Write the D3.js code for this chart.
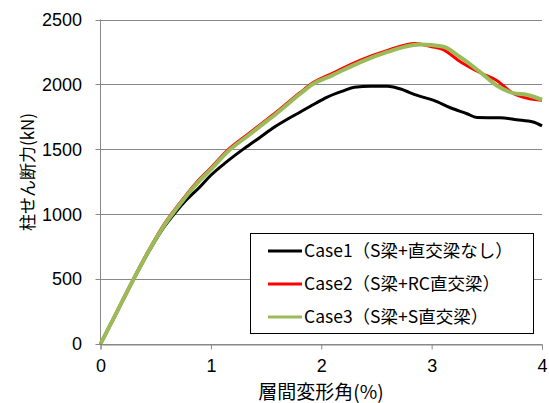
<!DOCTYPE html>
<html>
<head>
<meta charset="utf-8">
<script src="https://cdn.jsdelivr.net/npm/d3@7"></script>
<style>
  body { margin: 0; background: #fff; }
  svg text { font-family: "Noto Sans CJK JP", "Liberation Sans", sans-serif; }
</style>
</head>
<body>
<div id="chart"></div>
<script>
// 柱せん断力 - 層間変形角
let xTicks = [0, 1, 2, 3, 4]
let yTicks = [0, 500, 1000, 1500, 2000, 2500]

let case1Drift = [0, 0.1, 0.2, 0.3, 0.45, 0.57, 0.65, 0.75, 0.9, 1.0, 1.12, 1.3, 1.45, 1.57, 1.7, 1.81, 1.95, 2.05, 2.2, 2.3, 2.45, 2.6, 2.71, 2.87, 3.02, 3.17, 3.32, 3.41, 3.62, 3.77, 3.92, 4.0]
let case1Shear = [0, 165, 332, 497, 730, 895, 983, 1085, 1210, 1300, 1388, 1505, 1595, 1668, 1735, 1787, 1855, 1900, 1950, 1978, 1985, 1985, 1966, 1915, 1877, 1820, 1774, 1745, 1743, 1728, 1710, 1680]

let case2Drift = [0, 0.1, 0.2, 0.3, 0.45, 0.57, 0.65, 0.75, 0.9, 1.0, 1.15, 1.36, 1.45, 1.6, 1.81, 1.92, 2.1, 2.35, 2.6, 2.85, 3.0, 3.1, 3.26, 3.44, 3.59, 3.74, 3.86, 4.0]
let case2Shear = [0, 168, 338, 505, 742, 915, 1010, 1120, 1272, 1357, 1492, 1632, 1692, 1792, 1938, 2010, 2085, 2185, 2262, 2315, 2290, 2270, 2175, 2090, 2030, 1930, 1895, 1877]

let case3Drift = [0, 0.1, 0.2, 0.3, 0.45, 0.57, 0.65, 0.75, 0.9, 1.0, 1.15, 1.36, 1.45, 1.6, 1.81, 1.92, 2.1, 2.35, 2.6, 2.81, 2.9, 3.1, 3.26, 3.44, 3.59, 3.74, 3.86, 4.0]
let case3Shear = [0, 166, 334, 500, 735, 905, 1000, 1110, 1260, 1345, 1480, 1620, 1680, 1780, 1928, 2000, 2070, 2170, 2250, 2300, 2308, 2292, 2210, 2095, 1992, 1933, 1920, 1882]

let seriesNames = ["Case1（S梁+直交梁なし）", "Case2（S梁+RC直交梁）", "Case3（S梁+S直交梁）"]
let seriesColors = ["#000000", "#ff0000", "#9bbb59"]
let seriesWidths = [3, 3, 4]

let series = [
  { drift: case1Drift, shear: case1Shear },
  { drift: case2Drift, shear: case2Shear },
  { drift: case3Drift, shear: case3Shear }
]

let width = 549,
    height = 403,
    margin = { left: 100.5, right: 7, top: 19.5, bottom: 59 }

let svg = d3.select("#chart").append("svg")
    .attr("width", width)
    .attr("height", height)

let x = d3.scaleLinear().domain([0, 4]).range([margin.left, width - margin.right])
let y = d3.scaleLinear().domain([0, 2500]).range([height - margin.bottom, margin.top])

// グリッド線
svg.append("g")
   .selectAll("line")
   .data(yTicks)
   .enter().append("line")
   .attr("x1", margin.left - 5)
   .attr("x2", width - margin.right)
   .attr("y1", d => Math.round(y(d)) + 0.5)
   .attr("y2", d => Math.round(y(d)) + 0.5)
   .attr("stroke", "#888")
   .attr("stroke-width", 1)

// Y軸
svg.append("line")
   .attr("x1", margin.left).attr("x2", margin.left)
   .attr("y1", y(2500)).attr("y2", y(0))
   .attr("stroke", "#888")

svg.append("g")
   .selectAll("text")
   .data(yTicks)
   .enter().append("text")
   .attr("x", 82)
   .attr("y", d => y(d))
   .attr("dy", "0.35em")
   .attr("text-anchor", "end")
   .attr("font-size", "18px")
   .style("font-family", "'Liberation Sans', sans-serif")
   .text(d => d)

// X軸
let axisX = d3.axisBottom(x).tickValues(xTicks).tickSize(5).tickPadding(10).tickFormat(d3.format("d"))
let gx = svg.append("g")
   .attr("transform", `translate(0,${Math.round(y(0)) + 0.5})`)
   .call(axisX)
gx.select(".domain").attr("stroke", "#888")
gx.selectAll(".tick line").attr("stroke", "#888")
gx.selectAll(".tick text")
  .attr("font-size", "18px")
  .attr("fill", "#000")
  .style("font-family", "'Liberation Sans', sans-serif")

// 曲線
let line = d3.line()
    .x(d => x(d[0]))
    .y(d => y(d[1]))
    .curve(d3.curveMonotoneX)

svg.append("g")
   .selectAll("path")
   .data(series)
   .enter().append("path")
   .attr("d", s => line(s.drift.map((v, i) => [v, s.shear[i]])))
   .attr("fill", "none")
   .attr("stroke", (s, i) => seriesColors[i])
   .attr("stroke-width", (s, i) => seriesWidths[i])
   .attr("stroke-linejoin", "round")

// 凡例
let legend = svg.append("g")
legend.append("rect")
   .attr("x", 250.5).attr("y", 233.5)
   .attr("width", 283).attr("height", 100)
   .attr("fill", "#fff")
   .attr("stroke", "#000")
   .attr("stroke-width", 1)

let legendItems = legend.selectAll(".item").data(seriesNames)
  .enter().append("g")
  .attr("class", "item")
  .attr("transform", (d, i) => `translate(0,${251 + i * 33})`)

legendItems.append("line")
  .attr("x1", 268).attr("x2", 302)
  .attr("stroke", (d, i) => seriesColors[i])
  .attr("stroke-width", 3)

legendItems.append("text")
  .attr("x", 304)
  .attr("dy", "0.35em")
  .attr("font-size", "17.5px")
  .text(d => d)

// 軸ラベル
svg.append("text")
   .attr("transform", "translate(28,172) rotate(-90)")
   .attr("text-anchor", "middle")
   .attr("dy", "0.35em")
   .attr("font-size", "17px")
   .text("柱せん断力(kN)")

svg.append("text")
   .attr("x", 321)
   .attr("y", 392)
   .attr("text-anchor", "middle")
   .attr("dy", "0.35em")
   .attr("font-size", "19px")
   .text("層間変形角(%)")
</script>
</body>
</html>
